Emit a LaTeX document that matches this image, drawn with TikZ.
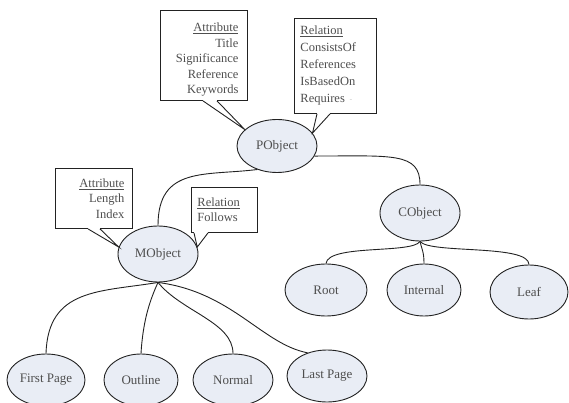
\documentclass[tikz,border=0pt]{standalone}
\usepackage{fontspec}
\setmainfont{Liberation Serif}
\usetikzlibrary{shapes.geometric,calc}
\definecolor{ellfill}{HTML}{E9EDF5}
\definecolor{inkc}{HTML}{222222}
\begin{document}
\begin{tikzpicture}[x=1pt,y=-1pt,
  obj/.style={ellipse,draw=inkc,line width=0.9pt,fill=ellfill,inner sep=0pt,text=inkc!80!white,font=\fontsize{13}{15}\selectfont},
  callout/.style={draw=inkc,line width=0.9pt,fill=white,anchor=north west,inner ysep=0pt,text=inkc!80!white,font=\fontsize{12.5}{15.5}\selectfont},
  link/.style={draw=inkc,line width=0.9pt},
  gap/.style={draw=white,line width=1.6pt}]
\useasboundingbox (0,0) rectangle (569,403);

% ellipses
\node[obj,minimum width=80pt,minimum height=53pt] (po) at (277,146) {PObject};
\node[obj,minimum width=80pt,minimum height=56pt] (mo) at (158,254) {MObject};
\node[obj,minimum width=80pt,minimum height=56pt] (co) at (420,213) {CObject};
\node[obj,minimum width=82pt,minimum height=52pt] (rt) at (326,290) {Root};
\node[obj,minimum width=74pt,minimum height=52pt] (in) at (424,290) {Internal};
\node[obj,minimum width=78pt,minimum height=54pt] (lf) at (529,292) {Leaf};
\node[obj,minimum width=78pt,minimum height=52pt] (fp) at (46,380) {First Page};
\node[obj,minimum width=74pt,minimum height=52pt] (ol) at (141,380) {Outline};
\node[obj,minimum width=80pt,minimum height=52pt] (nm) at (233,380) {Normal};
\node[obj,minimum width=80pt,minimum height=52pt] (lp) at (327,376) {Last Page};

% connectors
\draw[link] (po.230) .. controls (205,176) and (158,166) .. (mo.north);
\draw[link] (po.-15) .. controls (392,156) and (420,152) .. (co.north);
\draw[link] (co.south) .. controls (412,254) and (328,244) .. (rt.north);
\draw[link] (co.south) .. controls (422,250) and (424,252) .. (in.north);
\draw[link] (co.south) .. controls (430,254) and (529,244) .. (lf.north);
\draw[link] (mo.south) .. controls (100,292) and (48,288) .. (fp.north);
\draw[link] (mo.south) .. controls (150,300) and (143,320) .. (ol.north);
\draw[link] (mo.south) .. controls (182,312) and (233,322) .. (nm.north);
\draw[link] (mo.south) .. controls (232,292) and (262,344) .. (lp.130);

% callouts
\node[callout,inner xsep=9pt,text width=69pt,minimum height=90pt,align=right] (pa) at (160,10)
  {\rule{0pt}{17pt}\underline{Attribute}\\Title\\Significance\\Reference\\Keywords};
\coordinate (paA) at ($(pa.south west)+(43,0)$);
\coordinate (paB) at ($(pa.south west)+(57,0)$);
\draw[gap] (paA) -- (paB);
\draw[link,line join=miter] (paA) -- (po.153) -- (paB);

\node[callout,inner xsep=6pt,text width=70pt,minimum height=95pt,align=left,
  font=\fontsize{12.5}{17}\selectfont] (pr) at (294,18)
  {\underline{Relation}\\ConsistsOf\\References\\IsBasedOn\\Requires \raisebox{0.25ex}{\tiny$\cdot\!\cdot$}};
\coordinate (prA) at ($(pr.south west)+(23,0)$);
\coordinate (prB) at ($(pr.south west)+(36,0)$);
\draw[gap] (prA) -- (prB);
\draw[link,line join=miter] (prA) -- (po.20) -- (prB);

\node[callout,inner xsep=8pt,text width=61pt,minimum height=60pt,align=right] (ma) at (55,168)
  {\underline{Attribute}\\Length\\Index};
\coordinate (maA) at ($(ma.south west)+(33,0)$);
\coordinate (maB) at ($(ma.south west)+(45,0)$);
\draw[gap] (maA) -- (maB);
\draw[link,line join=miter] (maA) -- (mo.170) -- (maB);

\node[callout,inner xsep=6pt,text width=54pt,minimum height=45pt,align=left] (mr) at (191,187)
  {\underline{Relation}\\Follows};
\coordinate (mrA) at ($(mr.south west)+(3,0)$);
\coordinate (mrB) at ($(mr.south west)+(17,0)$);
\draw[gap] (mrA) -- (mrB);
\draw[link,line join=miter] (mrA) -- (mo.10) -- (mrB);
\end{tikzpicture}
\end{document}
